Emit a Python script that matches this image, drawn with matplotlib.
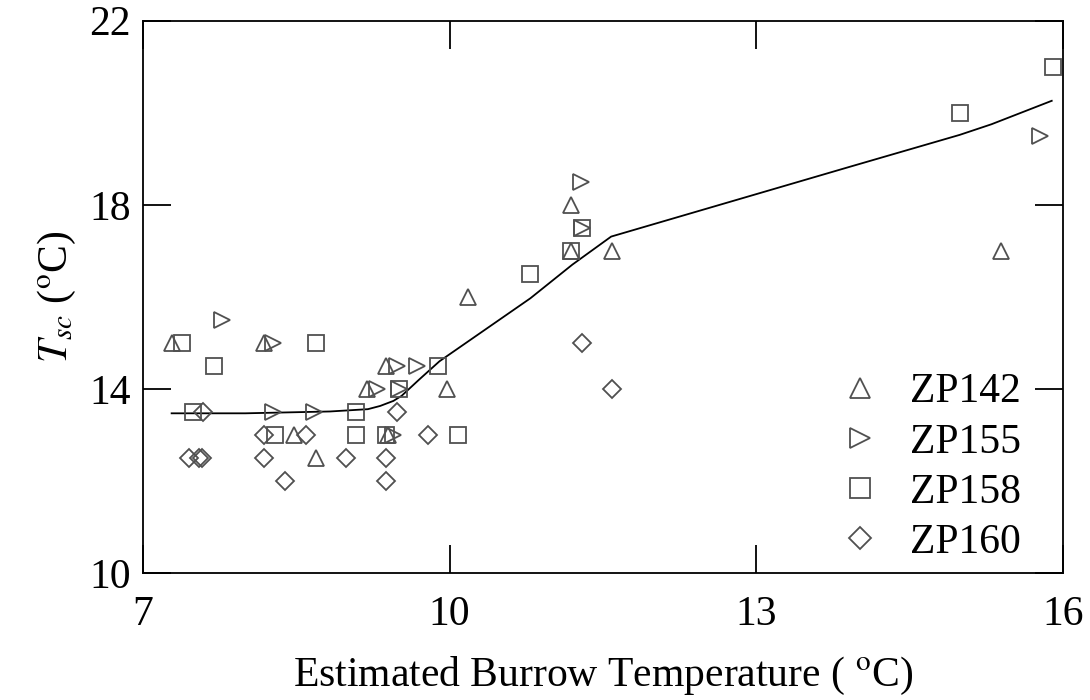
import matplotlib.pyplot as plt

plt.rcParams['font.family'] = ['Liberation Serif', 'DejaVu Serif']
plt.rcParams['mathtext.fontset'] = 'stix'

# Data
zp142_x = [7.28, 8.18, 8.48, 8.69, 9.19, 9.38, 9.40, 9.97, 10.18, 11.19, 11.19, 11.59, 15.39]
zp142_y = [15.0, 15.0, 13.0, 12.5, 14.0, 14.5, 13.0, 14.0, 16.0, 18.0, 17.0, 17.0, 17.0]

zp155_x = [7.77, 8.27, 8.27, 8.67, 9.29, 9.48, 9.68, 9.50, 9.45, 11.28, 11.29, 15.78]
zp155_y = [15.5, 15.0, 13.5, 13.5, 14.0, 14.5, 14.5, 14.0, 13.0, 18.5, 17.5, 19.5]

zp158_x = [7.38, 8.69, 7.69, 7.49, 8.29, 9.08, 9.08, 9.38, 9.50, 9.89, 10.08, 10.79,
           11.19, 11.29, 14.99, 15.90]
zp158_y = [15.0, 15.0, 14.5, 13.5, 13.0, 13.5, 13.0, 13.0, 14.0, 14.5, 13.0, 16.5,
           17.0, 17.5, 20.0, 21.0]

zp160_x = [7.59, 8.18, 8.59, 7.45, 7.55, 7.58, 8.18, 8.39, 8.99, 9.38, 9.38, 9.48,
           9.79, 11.29, 11.59]
zp160_y = [13.5, 13.0, 13.0, 12.5, 12.5, 12.5, 12.5, 12.0, 12.5, 12.5, 12.0, 13.5,
           13.0, 15.0, 14.0]

fit_x = [7.28, 8.0, 8.83, 9.2, 9.32, 9.45, 9.53, 9.7, 9.9, 10.79, 11.2, 11.58,
         13.92, 14.99, 15.3, 15.89]
fit_y = [13.47, 13.47, 13.51, 13.56, 13.63, 13.74, 13.85, 14.2, 14.6, 15.97, 16.7, 17.31,
         18.83, 19.52, 19.75, 20.26]

fig = plt.figure(figsize=(10.9, 7), dpi=100)
ax = fig.add_axes([0.1312, 0.1814, 0.844, 0.789])

mk = dict(linestyle='none', markerfacecolor='none', markeredgecolor='#505050',
          markeredgewidth=1.3)
ax.plot(fit_x, fit_y, color='black', linewidth=1.3)
ax.plot(zp142_x, zp142_y, marker='^', markersize=11, label='ZP142', **mk)
ax.plot(zp155_x, zp155_y, marker='>', markersize=11, label='ZP155', **mk)
ax.plot(zp158_x, zp158_y, marker='s', markersize=11, label='ZP158', **mk)
ax.plot(zp160_x, zp160_y, marker='D', markersize=9, label='ZP160', **mk)

ax.set_xlim(7, 16)
ax.set_ylim(10, 22)
ax.set_xticks([7, 10, 13, 16])
ax.set_yticks([10, 14, 18, 22])
ax.tick_params(direction='in', length=20, width=1.3, top=True, right=True, labelsize=30)
ax.tick_params(axis='x', pad=16)
ax.tick_params(axis='y', pad=9)
for s in ax.spines.values():
    s.set_linewidth(1.3)

ax.set_xlabel(r'Estimated Burrow Temperature ( $^{\mathrm{o}}$C)', fontsize=30, labelpad=15)
ax.set_ylabel(r'$T_{sc}$ ($^{\mathrm{o}}$C)', fontsize=30, labelpad=8)

ax.legend(loc='lower right', frameon=False, fontsize=30, handletextpad=0.7,
          labelspacing=0.28, borderaxespad=0.0, handlelength=1.0, markerscale=1.3,
          bbox_to_anchor=(0.972, -0.01))

plt.savefig('out.png', dpi=100)
